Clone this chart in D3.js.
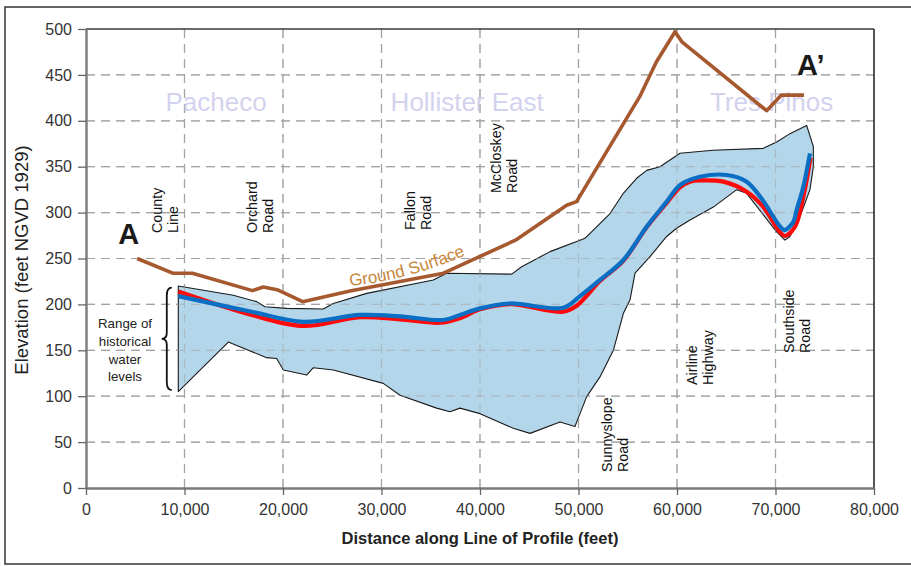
<!DOCTYPE html>
<html>
<head>
<meta charset="utf-8">
<script src="https://cdn.jsdelivr.net/npm/d3@7"></script>
<style>
  html, body { margin: 0; padding: 0; background: #fff; }
  svg { display: block; font-family: "Liberation Sans", Arial, Helvetica, sans-serif; }
</style>
</head>
<body>
<svg id="chart" width="911" height="566"></svg>
<script>
// ---------------- DATA ----------------
const xTicks = [0, 10000, 20000, 30000, 40000, 50000, 60000, 70000, 80000];
const yTicks = [0, 50, 100, 150, 200, 250, 300, 350, 400, 450, 500];

// Ground surface profile [distance ft, elevation ft]
const groundSurface = [
  [5200, 250], [8800, 234], [10800, 234], [16900, 215], [18000, 219], [19400, 216],
  [22000, 203], [26800, 214.5], [36300, 234], [43600, 270], [48800, 308], [49800, 312],
  [56200, 426], [57900, 464], [59800, 497], [60500, 486], [69100, 411], [70600, 428], [72900, 428]
];

// Range of historical water levels: upper and lower envelope
const rangeUpper = [
  [9370, 220], [14950, 210], [17330, 203], [18170, 197.5], [20380, 195.7], [24090, 195],
  [25110, 201], [28500, 212], [35260, 226.6], [36620, 233.9], [43220, 233], [44230, 241],
  [47110, 257.5], [50150, 270], [50660, 272], [53200, 299], [54550, 321], [55900, 337.4],
  [56920, 346], [58270, 350], [60300, 364.6], [63650, 368], [68760, 370], [70120, 377],
  [71470, 386], [73160, 395], [73840, 372]
];
const rangeLower = [
  [9370, 105], [14450, 159], [18340, 142], [19360, 141], [20030, 128.5], [22400, 123],
  [23080, 131], [25110, 128.5], [30180, 114], [31880, 101], [35600, 87], [36950, 83],
  [37970, 87], [40000, 81], [43380, 65], [45080, 59.5], [48120, 72], [49640, 67],
  [50150, 81], [50830, 99.5], [52180, 121], [53540, 150], [54550, 190], [55230, 205],
  [55740, 234], [57260, 252], [58950, 274], [59960, 283], [61320, 292], [63690, 306],
  [66060, 325], [67070, 321], [70120, 279], [70960, 270], [71470, 274], [72500, 296],
  [73500, 325], [73840, 350]
];

// Water level profiles
const blueLevels = [
  [9370, 209], [16820, 192], [22060, 181], [27820, 188.5], [31880, 187], [36270, 183],
  [37970, 188.5], [40000, 195.7], [43040, 201], [48460, 196.4], [50150, 209], [52180, 226.6],
  [54550, 248.4], [56920, 284.6], [58950, 311.9], [60300, 330], [62340, 339], [65040, 341],
  [67070, 333.7], [68600, 315], [70450, 285], [70900, 281], [71810, 290], [72150, 303],
  [72820, 328], [73500, 364.6]
];
const redLevels = [
  [9370, 214], [16820, 188.5], [22060, 176.5], [27820, 186], [31880, 183.7], [35940, 180],
  [37970, 185], [40000, 194.6], [43040, 200.4], [48460, 192], [49810, 198.5], [52180, 225.5],
  [54550, 247.5], [56920, 284], [58950, 310.5], [60300, 327.6], [61320, 333.7], [62500, 335],
  [64700, 333.7], [67070, 322.8], [68700, 307], [70450, 279], [70960, 274.5], [71980, 284.6],
  [72820, 317], [73550, 359.5]
];

const regionNames = ["Pacheco", "Hollister East", "Tres Pinos"];
const roadNames = [["County", "Line"], ["Orchard", "Road"], ["Fallon", "Road"], ["McCloskey", "Road"],
                   ["Sunnyslope", "Road"], ["Airline", "Highway"], ["Southside", "Road"]];

// ---------------- DRAW ----------------
(function () {
const svg = d3.select("#chart");
const pL = 86, pR = 874, pT = 29, pB = 488;
const x = d3.scaleLinear().domain([0, 80000]).range([pL, pR]);
const y = d3.scaleLinear().domain([0, 500]).range([pB, pT]);

// outer frame
svg.append("rect").attr("x", 5).attr("y", 7).attr("width", 930).attr("height", 557)
  .attr("fill", "none").attr("stroke", "#333").attr("stroke-width", 1.5);

// grid
const gridColor = "#a3a3a3";
function drawGrid(g) {
  g.selectAll("line.v").data(xTicks.filter(d => d > 0 && d < 80000)).join("line").attr("class", "v")
    .attr("x1", d => x(d)).attr("x2", d => x(d)).attr("y1", pT).attr("y2", pB)
    .attr("stroke", gridColor).attr("stroke-width", 1.2).attr("stroke-dasharray", "9,6");
  g.selectAll("line.h").data(yTicks.filter(d => d > 0 && d < 500)).join("line").attr("class", "h")
    .attr("y1", d => y(d)).attr("y2", d => y(d)).attr("x1", pL).attr("x2", pR)
    .attr("stroke", gridColor).attr("stroke-width", 1.2).attr("stroke-dasharray", "9,6");
}
drawGrid(svg.append("g"));

// region labels
const regionPos = [13200, 38700, 69600];
svg.append("g").selectAll("text").data(regionNames).join("text")
  .attr("x", (d, i) => x(regionPos[i])).attr("y", y(410.5))
  .attr("text-anchor", "middle").attr("font-size", 26).attr("fill", "#d3d2ee")
  .text(d => d);

// band
const bandPoly = rangeUpper.concat(rangeLower.slice().reverse());
svg.append("path")
  .attr("d", d3.line().x(d => x(d[0])).y(d => y(d[1]))(bandPoly) + "Z")
  .attr("fill", "#b3d6ea").attr("stroke", "#1a1a1a").attr("stroke-width", 1.1)
  .attr("stroke-linejoin", "round");

// gridlines visible through band
drawGrid(svg.append("g").attr("opacity", 0.55));

// water level lines
const smooth = d3.line().x(d => x(d[0])).y(d => y(d[1])).curve(d3.curveCatmullRom.alpha(0.5));
svg.append("path").attr("d", smooth(redLevels)).attr("fill", "none")
  .attr("stroke", "#ff0a0a").attr("stroke-width", 4.2);
svg.append("path").attr("d", smooth(blueLevels)).attr("fill", "none")
  .attr("stroke", "#0a6fc4").attr("stroke-width", 4.2);

// ground surface
svg.append("path")
  .attr("d", d3.line().x(d => x(d[0])).y(d => y(d[1]))(groundSurface))
  .attr("fill", "none").attr("stroke", "#a6582f").attr("stroke-width", 3.6)
  .attr("stroke-linejoin", "round");

// ground surface label along a gentle curve
const gsPath = d3.path();
gsPath.moveTo(x(26800), y(220));
gsPath.quadraticCurveTo(x(33100), y(227), x(39500), y(258));
svg.append("defs").append("path").attr("id", "gsPath").attr("d", gsPath.toString());
svg.append("text").attr("font-size", 17).attr("fill", "#c8863c")
  .append("textPath").attr("href", "#gsPath").text("Ground Surface");

// road labels
const roadPos = [[7766, 277.8], [17360, 277.8], [33400, 281], [42130, 321.3], [53400, 17.4], [62030, 112.2], [71880, 147]];
const roads = svg.append("g").attr("font-size", 14.3).attr("fill", "#111");
roadNames.forEach((lines, i) => {
  const t = roads.append("text")
    .attr("transform", `translate(${x(roadPos[i][0])},${y(roadPos[i][1])}) rotate(-90)`);
  lines.forEach((ln, j) => t.append("tspan").attr("x", 0).attr("y", j * 15.6).text(ln));
});

// A and A'
svg.append("text").attr("x", x(4350)).attr("y", y(266)).attr("text-anchor", "middle")
  .attr("font-size", 29).attr("font-weight", "bold").attr("fill", "#1a1a1a").text("A");
svg.append("text").attr("x", x(72190)).attr("y", y(450)).attr("text-anchor", "start")
  .attr("font-size", 29).attr("font-weight", "bold").attr("fill", "#1a1a1a").text("A\u2019");

// range annotation + brace
const rangeText = ["Range of", "historical", "water", "levels"];
svg.append("g").selectAll("text").data(rangeText).join("text")
  .attr("x", 125).attr("y", (d, i) => 328.3 + i * 17.6)
  .attr("text-anchor", "middle").attr("font-size", 13.3).attr("fill", "#222").text(d => d);
{
  const r = x(9370) - 6.5, m = r - 5, l = m - 5;
  const t0 = y(rangeUpper[0][1]) + 1.5, b0 = y(rangeLower[0][1]) - 1.5, mid = (t0 + b0) / 2;
  const p = `M${r},${t0} Q${m},${t0} ${m},${t0 + 8} L${m},${mid - 6} Q${m},${mid} ${l},${mid} ` +
            `Q${m},${mid} ${m},${mid + 6} L${m},${b0 - 8} Q${m},${b0} ${r},${b0}`;
  svg.append("path").attr("d", p).attr("fill", "none").attr("stroke", "#111").attr("stroke-width", 1.8);
}

// frame top/right
svg.append("line").attr("x1", pL).attr("x2", pR).attr("y1", pT).attr("y2", pT)
  .attr("stroke", "#3a3a3a").attr("stroke-width", 1.6);
svg.append("line").attr("x1", pR).attr("x2", pR).attr("y1", pT).attr("y2", pB)
  .attr("stroke", "#2a2a2a").attr("stroke-width", 1.6);

// axes
const yAxis = svg.append("g").attr("transform", `translate(${pL},0)`)
  .call(d3.axisLeft(y).tickValues(yTicks).tickFormat(d3.format("d")).tickSizeInner(8).tickSizeOuter(0).tickPadding(6));
const xAxis = svg.append("g").attr("transform", `translate(0,${pB})`)
  .call(d3.axisBottom(x).tickValues(xTicks).tickFormat(d3.format(",")).tickSizeInner(7).tickSizeOuter(0).tickPadding(9));
[yAxis, xAxis].forEach(a => {
  a.select(".domain").attr("stroke", "#7a7a7a").attr("stroke-width", 2.4);
  a.selectAll(".tick line").attr("stroke", "#666").attr("stroke-width", 1.3);
  a.selectAll(".tick text").attr("font-size", 16).attr("fill", "#333")
    .attr("font-family", "'Liberation Sans', Arial, sans-serif");
});

// axis titles
svg.append("text").attr("transform", `translate(28,260) rotate(-90)`).attr("text-anchor", "middle")
  .attr("font-size", 18.5).attr("fill", "#222").text("Elevation (feet NGVD 1929)");
svg.append("text").attr("x", (pL + pR) / 2).attr("y", 544).attr("text-anchor", "middle")
  .attr("font-size", 16.5).attr("font-weight", "bold").attr("fill", "#222")
  .text("Distance along Line of Profile (feet)");
})();
</script>
</body>
</html>
